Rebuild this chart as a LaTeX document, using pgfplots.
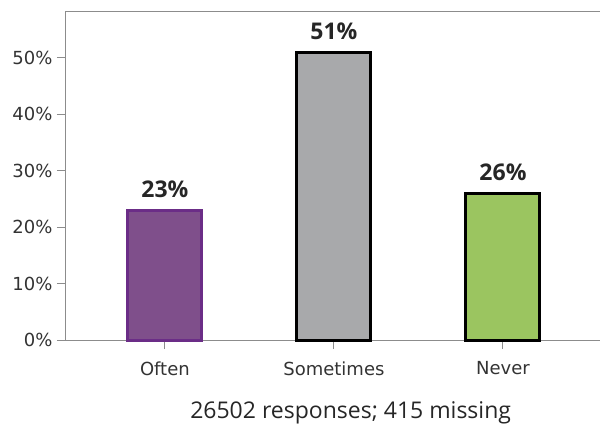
\documentclass[border=0pt]{standalone}
\usepackage{pgfplots}
\pgfplotsset{compat=1.18}
\usepackage{fontspec}
\setmainfont{DejaVu Sans}
\newfontfamily\osans{Open Sans}
\definecolor{purplefill}{HTML}{7F4F8B}
\definecolor{purpleedge}{HTML}{6B2D87}
\definecolor{grayfill}{HTML}{A8A9AB}
\definecolor{greenfill}{HTML}{9BC560}
\definecolor{axisgray}{HTML}{8C8C8C}
\definecolor{txt}{HTML}{333333}
\begin{document}
\begin{tikzpicture}
\begin{axis}[
  at={(0pt,0pt)}, anchor=south west,
  scale only axis, width=534pt, height=329pt,
  xmin=-0.585, xmax=2.574, ymin=0, ymax=58.3,
  /pgf/number format/assume math mode=true,
  axis lines*=left,
  axis line style={axisgray, line width=1pt},
  every axis line/.append style={-},
  tick style={axisgray, line width=1pt},
  tick align=outside, major tick length=9pt,
  xtick={0,1,2}, xticklabels={Often,Sometimes,Never},
  ytick={0,10,20,30,40,50},
  yticklabels={0\%,10\%,20\%,30\%,40\%,50\%},
  tick label style={font=\fontsize{18}{22}\selectfont, text=txt},
  xticklabel style={yshift=-9pt},
  yticklabel style={xshift=-1pt},
  bar width=0.438,
  ybar, bar shift=0pt,
  nodes near coords={\pgfmathprintnumber[assume math mode=true]{\pgfplotspointmeta}\%},
  every node near coord/.append style={font=\osans\bfseries\fontsize{23}{26}\selectfont, text=black!85, anchor=base, inner sep=0pt, yshift=13pt},
  clip=false,
  after end axis/.code={
    \draw[axisgray, line width=1pt] (rel axis cs:0,1) -- (rel axis cs:1,1);
    \node[font=\osans\fontsize{23}{26}\selectfont, text=black!85, yshift=-73pt] at (rel axis cs:0.533,0) {26502 responses; 415 missing};
  },
]
\addplot[fill=purplefill, draw=purpleedge, line width=3pt] coordinates {(0,23)};
\addplot[fill=grayfill, draw=black, line width=3pt] coordinates {(1,51)};
\addplot[fill=greenfill, draw=black, line width=3pt] coordinates {(2,26)};
\end{axis}
\pgfresetboundingbox
\path (-66pt,-84pt) rectangle (534pt,340pt);
\end{tikzpicture}
\end{document}
